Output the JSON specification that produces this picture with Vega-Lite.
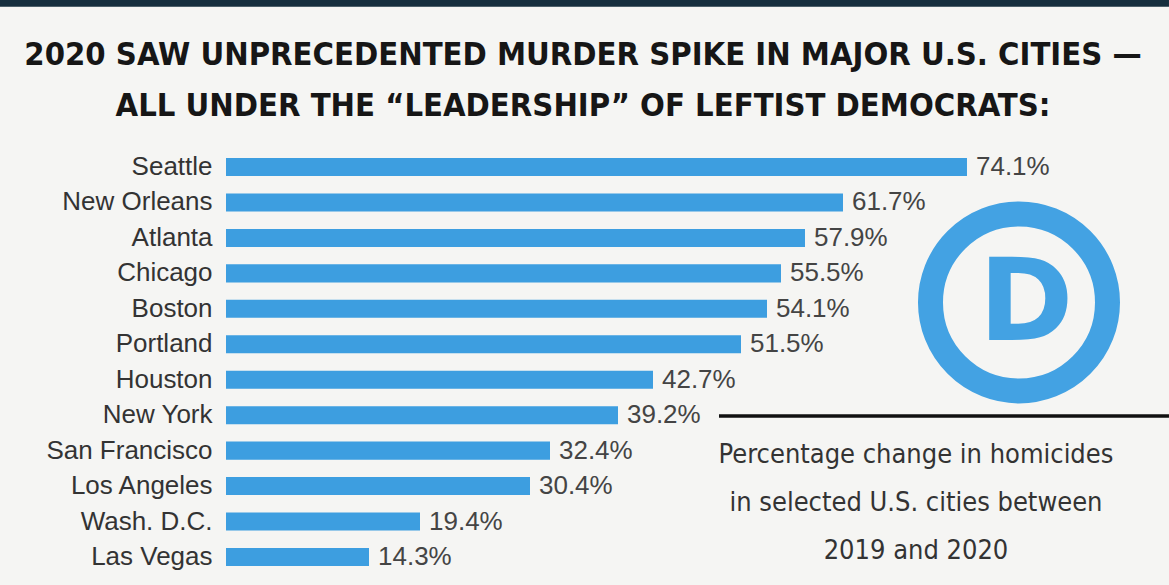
{
  "$schema": "https://vega.github.io/schema/vega-lite/v6.json",
  "width": 943,
  "height": 425.4,
  "autosize": {"type": "none"},
  "padding": {"left": 226, "top": 149.3, "right": 0, "bottom": 10},
  "background": "#f5f5f3",
  "config": {"view": {"stroke": null}},
  "datasets": {
    "cities": [
      {"City": "Seattle", "Change": 74.1, "Label": "74.1%"},
      {"City": "New Orleans", "Change": 61.7, "Label": "61.7%"},
      {"City": "Atlanta", "Change": 57.9, "Label": "57.9%"},
      {"City": "Chicago", "Change": 55.5, "Label": "55.5%"},
      {"City": "Boston", "Change": 54.1, "Label": "54.1%"},
      {"City": "Portland", "Change": 51.5, "Label": "51.5%"},
      {"City": "Houston", "Change": 42.7, "Label": "42.7%"},
      {"City": "New York", "Change": 39.2, "Label": "39.2%"},
      {"City": "San Francisco", "Change": 32.4, "Label": "32.4%"},
      {"City": "Los Angeles", "Change": 30.4, "Label": "30.4%"},
      {"City": "Wash. D.C.", "Change": 19.4, "Label": "19.4%"},
      {"City": "Las Vegas", "Change": 14.3, "Label": "14.3%"}
    ]
  },
  "layer": [
    {
      "data": {"name": "cities"},
      "mark": {"type": "bar", "color": "#3d9ee0"},
      "encoding": {
        "y": {
          "field": "City", "type": "nominal", "sort": null,
          "scale": {"paddingInner": 0.49, "paddingOuter": 0.245},
          "axis": {"title": null, "domain": false, "ticks": false, "tickSize": 0, "labelPadding": 14,
                   "labelFont": "Liberation Sans", "labelFontSize": 26, "labelColor": "#333333", "labelLimit": 300}
        },
        "x": {"field": "Change", "type": "quantitative", "scale": {"domain": [0, 94.3]}, "axis": null}
      }
    },
    {
      "data": {"name": "cities"},
      "mark": {"type": "text", "align": "left", "baseline": "middle", "dx": 9, "font": "Liberation Sans", "fontSize": 26, "color": "#444444"},
      "encoding": {
        "y": {"field": "City", "type": "nominal", "sort": null, "scale": {"paddingInner": 0.49, "paddingOuter": 0.245}, "axis": null},
        "x": {"field": "Change", "type": "quantitative", "scale": {"domain": [0, 94.3]}, "axis": null},
        "text": {"field": "Label"}
      }
    },
    {
      "data": {"values": [{"lx": -22.7, "lx2": 94.3, "ly": -4.25, "ly2": -4.02}]},
      "mark": {"type": "rect", "color": "#162f3e", "clip": false},
      "encoding": {
        "x": {"field": "lx", "type": "quantitative", "scale": {"domain": [0, 94.3]}, "axis": null},
        "x2": {"field": "lx2"},
        "y": {"field": "ly", "type": "quantitative", "scale": {"domain": [0, 12], "reverse": true}, "axis": null},
        "y2": {"field": "ly2"}
      }
    },
    {
      "data": {"values": [
        {"lx": 35.7, "ly": -2.378, "t": "2020 SAW UNPRECEDENTED MURDER SPIKE IN MAJOR U.S. CITIES —"},
        {"lx": 35.7, "ly": -0.939, "t": "ALL UNDER THE “LEADERSHIP” OF LEFTIST DEMOCRATS:"}
      ]},
      "mark": {"type": "text", "align": "center", "baseline": "alphabetic", "font": "DejaVu Sans Condensed, DejaVu Sans", "fontWeight": "bold", "fontSize": 32.5, "color": "#161616"},
      "encoding": {
        "x": {"field": "lx", "type": "quantitative", "scale": {"domain": [0, 94.3]}, "axis": null},
        "y": {"field": "ly", "type": "quantitative", "scale": {"domain": [0, 12], "reverse": true}, "axis": null},
        "text": {"field": "t"}
      }
    },
    {
      "data": {"values": [{"lx": 79.3, "ly": 4.32}]},
      "mark": {"type": "point", "shape": "circle", "filled": false, "stroke": "#43a2e3", "strokeWidth": 25, "size": 31329, "opacity": 1},
      "encoding": {
        "x": {"field": "lx", "type": "quantitative", "scale": {"domain": [0, 94.3]}, "axis": null},
        "y": {"field": "ly", "type": "quantitative", "scale": {"domain": [0, 12], "reverse": true}, "axis": null}
      }
    },
    {
      "data": {"values": [{"lx": 80.0, "ly": 5.38, "t": "D"}]},
      "mark": {"type": "text", "align": "center", "baseline": "alphabetic", "font": "DejaVu Sans", "fontWeight": "bold", "fontSize": 114, "color": "#43a2e3"},
      "encoding": {
        "x": {"field": "lx", "type": "quantitative", "scale": {"domain": [0, 94.3]}, "axis": null},
        "y": {"field": "ly", "type": "quantitative", "scale": {"domain": [0, 12], "reverse": true}, "axis": null},
        "text": {"field": "t"}
      }
    },
    {
      "data": {"values": [{"lx": 49.3, "lx2": 94.3, "ly": 7.52}]},
      "mark": {"type": "rule", "color": "#111111", "strokeWidth": 3.5},
      "encoding": {
        "x": {"field": "lx", "type": "quantitative", "scale": {"domain": [0, 94.3]}, "axis": null},
        "x2": {"field": "lx2"},
        "y": {"field": "ly", "type": "quantitative", "scale": {"domain": [0, 12], "reverse": true}, "axis": null}
      }
    },
    {
      "data": {"values": [
        {"lx": 69.0, "ly": 8.85, "t": "Percentage change in homicides"},
        {"lx": 69.0, "ly": 10.2, "t": "in selected U.S. cities between"},
        {"lx": 69.0, "ly": 11.56, "t": "2019 and 2020"}
      ]},
      "mark": {"type": "text", "align": "center", "baseline": "alphabetic", "font": "DejaVu Sans Condensed, DejaVu Sans", "fontSize": 27, "color": "#333333"},
      "encoding": {
        "x": {"field": "lx", "type": "quantitative", "scale": {"domain": [0, 94.3]}, "axis": null},
        "y": {"field": "ly", "type": "quantitative", "scale": {"domain": [0, 12], "reverse": true}, "axis": null},
        "text": {"field": "t"}
      }
    }
  ],
  "resolve": {"scale": {"y": "independent"}, "axis": {"y": "independent"}}
}
